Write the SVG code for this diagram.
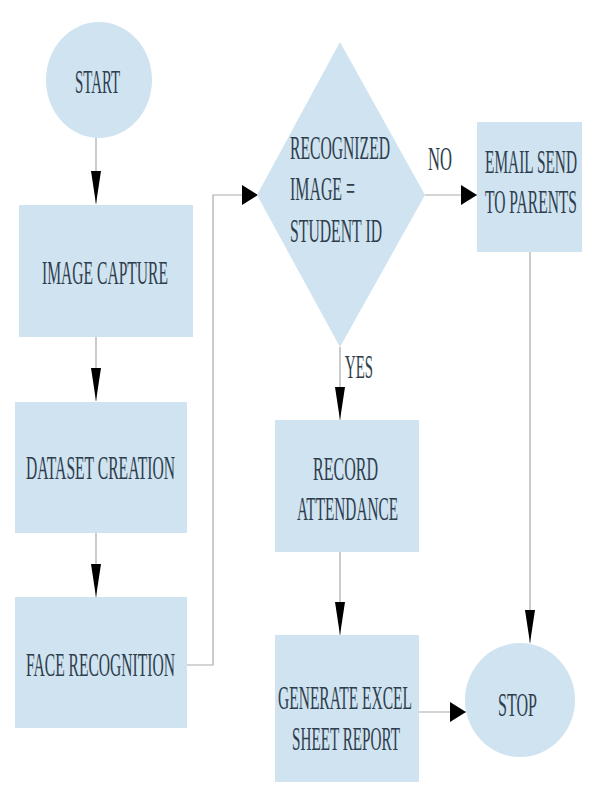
<svg xmlns="http://www.w3.org/2000/svg" width="590" height="785" viewBox="0 0 590 785">
<style>
.n{fill:#cfe3f1;stroke:none}
.t{font-family:"Liberation Serif","DejaVu Serif",serif;font-size:34px;fill:#2f3e4d}
.c{fill:none;stroke:#a9a9a9;stroke-width:1.2}
</style>
<defs>
<marker id="arrV" viewBox="0 -5 33 10" refX="33" refY="0" markerWidth="33" markerHeight="10" markerUnits="userSpaceOnUse" orient="auto"><path d="M0,-5 L33,0 L0,5 z" fill="#000"/></marker>
<marker id="arrH" viewBox="0 -10 16 20" refX="16" refY="0" markerWidth="16" markerHeight="20" markerUnits="userSpaceOnUse" orient="auto"><path d="M0,-10 L16,0 L0,10 z" fill="#000"/></marker>
</defs>
<rect width="590" height="785" fill="#fff"/>
<g id="connectors">
<path class="c" d="M96,138 V204" marker-end="url(#arrV)"/>
<path class="c" d="M96,337 V401" marker-end="url(#arrV)"/>
<path class="c" d="M96,533 V597" marker-end="url(#arrV)"/>
<path class="c" d="M187,665 H213 V195 H258" marker-end="url(#arrH)"/>
<path class="c" d="M425,195 H477" marker-end="url(#arrH)"/>
<path class="c" d="M340,347 V420" marker-end="url(#arrV)"/>
<path class="c" d="M340,552 V635" marker-end="url(#arrV)"/>
<path class="c" d="M530,252 V643" marker-end="url(#arrV)"/>
<path class="c" d="M419,712 H466" marker-end="url(#arrH)"/>
<text class="t" transform="translate(428,170) scale(0.5,1)" textLength="48" lengthAdjust="spacingAndGlyphs">NO</text>
<text class="t" transform="translate(345,378) scale(0.5,1)" textLength="56" lengthAdjust="spacingAndGlyphs">YES</text>
</g>
<g id="start">
<ellipse class="n" cx="99" cy="80" rx="53" ry="58"/>
<text class="t" transform="translate(75,93) scale(0.5,1)" textLength="90" lengthAdjust="spacingAndGlyphs">START</text>
</g>
<g id="image-capture">
<rect class="n" x="19" y="205" width="174" height="132"/>
<text class="t" transform="translate(42,284) scale(0.5,1)" textLength="252" lengthAdjust="spacingAndGlyphs">IMAGE CAPTURE</text>
</g>
<g id="dataset-creation">
<rect class="n" x="15" y="402" width="172" height="131"/>
<text class="t" transform="translate(26,479) scale(0.5,1)" textLength="298" lengthAdjust="spacingAndGlyphs">DATASET CREATION</text>
</g>
<g id="face-recognition">
<rect class="n" x="15" y="597" width="172" height="131"/>
<text class="t" transform="translate(26,676) scale(0.5,1)" textLength="298" lengthAdjust="spacingAndGlyphs">FACE RECOGNITION</text>
</g>
<g id="decision">
<polygon class="n" points="340,42 425,195 340,347 257,195"/>
<text class="t" transform="translate(290,159) scale(0.5,1)" textLength="200" lengthAdjust="spacingAndGlyphs">RECOGNIZED</text>
<text class="t" transform="translate(290,200) scale(0.5,1)" textLength="130" lengthAdjust="spacingAndGlyphs">IMAGE =</text>
<text class="t" transform="translate(290,242) scale(0.5,1)" textLength="184" lengthAdjust="spacingAndGlyphs">STUDENT ID</text>
</g>
<g id="email">
<rect class="n" x="477" y="122" width="105" height="130"/>
<text class="t" transform="translate(485,173) scale(0.5,1)" textLength="184" lengthAdjust="spacingAndGlyphs">EMAIL SEND</text>
<text class="t" transform="translate(485,213) scale(0.5,1)" textLength="184" lengthAdjust="spacingAndGlyphs">TO PARENTS</text>
</g>
<g id="record">
<rect class="n" x="275" y="420" width="144" height="132"/>
<text class="t" transform="translate(313,480) scale(0.5,1)" textLength="130" lengthAdjust="spacingAndGlyphs">RECORD</text>
<text class="t" transform="translate(297,520) scale(0.5,1)" textLength="202" lengthAdjust="spacingAndGlyphs">ATTENDANCE</text>
</g>
<g id="generate">
<rect class="n" x="275" y="635" width="144" height="147"/>
<text class="t" transform="translate(278,709) scale(0.5,1)" textLength="268" lengthAdjust="spacingAndGlyphs">GENERATE EXCEL</text>
<text class="t" transform="translate(292,750) scale(0.5,1)" textLength="216" lengthAdjust="spacingAndGlyphs">SHEET REPORT</text>
</g>
<g id="stop">
<ellipse class="n" cx="520" cy="700" rx="55" ry="57"/>
<text class="t" transform="translate(498,716) scale(0.5,1)" textLength="78" lengthAdjust="spacingAndGlyphs">STOP</text>
</g>
</svg>
